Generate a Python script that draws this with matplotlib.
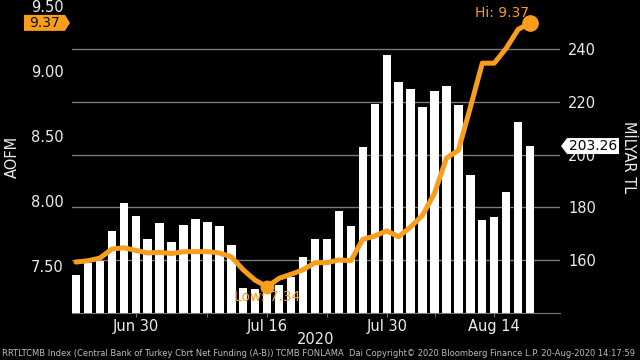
import numpy as np
import matplotlib
matplotlib.use("Agg")
import matplotlib.pyplot as plt
from matplotlib.patches import Polygon

# ---------------------------------------------------------------------------
# Data (business days, Turkish holidays skipped)
# ---------------------------------------------------------------------------
dates = [
    "Jun 23", "Jun 24", "Jun 25", "Jun 26", "Jun 29", "Jun 30",
    "Jul 1", "Jul 2", "Jul 3", "Jul 6", "Jul 7", "Jul 8", "Jul 9", "Jul 10",
    "Jul 13", "Jul 14", "Jul 16", "Jul 17", "Jul 20", "Jul 21", "Jul 22",
    "Jul 23", "Jul 24", "Jul 27", "Jul 28", "Jul 29", "Jul 30",
    "Aug 4", "Aug 5", "Aug 6", "Aug 7", "Aug 10", "Aug 11", "Aug 12",
    "Aug 13", "Aug 14", "Aug 17", "Aug 18", "Aug 19",
]

# net funding, billion TL (right axis, bars)
funding = [
    154.4, 158.8, 159.8, 171.1, 181.6, 176.9, 168.1, 174.0, 166.9, 173.2,
    175.5, 174.5, 172.9, 165.8, 149.4, 149.0, 148.5, 150.6, 153.8, 161.3,
    167.9, 168.2, 178.6, 172.8, 203.0, 219.1, 237.6, 227.5, 224.8, 218.2,
    224.3, 226.2, 218.9, 192.3, 175.3, 176.3, 186.0, 212.2, 203.26,
]

# average cost of funding, % (left axis, line)
aofm = [
    7.53, 7.54, 7.56, 7.63, 7.64, 7.62, 7.60, 7.605, 7.595, 7.61,
    7.61, 7.61, 7.60, 7.57, 7.47, 7.39, 7.34, 7.405, 7.436, 7.47,
    7.525, 7.525, 7.546, 7.54, 7.705, 7.73, 7.77, 7.725, 7.80, 7.89,
    8.06, 8.33, 8.39, 8.72, 9.06, 9.06, 9.175, 9.32, 9.37,
]

major_labels = ["Jun 30", "Jul 16", "Jul 30", "Aug 14"]
minor_labels = ["Jul 8", "Jul 23", "Aug 7"]
left_ticks = [7.50, 8.00, 8.50, 9.00, 9.50]
right_ticks = [160, 180, 200, 220, 240]

footer = ("RRTLTCMB Index (Central Bank of Turkey Cbrt Net Funding (A-B)) "
          "TCMB FONLAMA  Dai Copyright\u00a9 2020 Bloomberg Finance L.P. "
          "20-Aug-2020 14:17:59")

# ---------------------------------------------------------------------------
# Style
# ---------------------------------------------------------------------------
BG = "black"
ORANGE = "#f99d1c"
GRID = "#7a7a7a"
TXT = "#ececec"
FS = 10.5

W, H = 640, 360
fig = plt.figure(figsize=(W / 100, H / 100), dpi=100, facecolor=BG)
ax = fig.add_axes([72 / W, 47 / H, 488 / W, 313 / H])
ax.set_facecolor(BG)
ax2 = ax.twinx()   # line axis, drawn above the bars

x = np.arange(len(dates))

# bars on the right-hand axis
ax.bar(x, funding, width=0.7, color="white", zorder=2)
ax.set_ylim(140, 258.6)
ax.set_xlim(-0.33, 40.5)
ax.set_yticks(right_ticks)
ax.yaxis.tick_right()
ax.grid(axis="y", color=GRID, lw=1)
ax.set_axisbelow(True)
ax.tick_params(axis="y", length=0, pad=5.8, labelcolor=TXT, labelsize=FS)

ax.set_xticks([dates.index(d) for d in major_labels])
ax.set_xticklabels(major_labels)
ax.set_xticks([dates.index(d) for d in minor_labels], minor=True)
ax.tick_params(axis="x", which="both", length=3, color=GRID,
               labelcolor=TXT, labelsize=FS, pad=1)
for side in ("left", "right", "top"):
    ax.spines[side].set_visible(False)
ax.spines["bottom"].set_color(GRID)

# line on the left-hand axis
ax2.plot(x, aofm, color=ORANGE, lw=3.6, solid_joinstyle="round",
         solid_capstyle="round", zorder=3)
ax2.set_ylim(7.138, 9.546)
ax2.set_yticks(left_ticks)
ax2.set_yticklabels([f"{v:.2f}" for v in left_ticks])
ax2.yaxis.tick_left()
ax2.tick_params(axis="y", length=0, pad=5.8, labelcolor=TXT, labelsize=FS)
for s in ax2.spines.values():
    s.set_visible(False)

i_lo = int(np.argmin(aofm))
i_hi = int(np.argmax(aofm))
ax2.plot(x[i_lo], aofm[i_lo], "o", color=ORANGE, ms=9, zorder=4)
ax2.plot(x[i_hi], aofm[i_hi], "o", color=ORANGE, ms=11, zorder=4)
ax2.annotate(f"Low: {aofm[i_lo]:.2f}", (x[i_lo], aofm[i_lo]),
             xytext=(0, -10), textcoords="offset pixels",
             ha="center", va="center", color=ORANGE, fontsize=10)
ax2.annotate(f"Hi: {aofm[i_hi]:.2f}", (x[i_hi], aofm[i_hi]),
             xytext=(-1, 10), textcoords="offset pixels",
             ha="right", va="center", color=ORANGE, fontsize=10)

# axis titles and footer
fig.text(316 / W, 1 - 340 / H, "2020", ha="center", va="center",
         color=TXT, fontsize=FS)
fig.text(12 / W, 1 - 157 / H, "AOFM", rotation=90, ha="center",
         va="center", color=TXT, fontsize=FS)
fig.text(629 / W, 1 - 157 / H, "M\u0130LYAR TL", rotation=270, ha="center",
         va="center", color=TXT, fontsize=FS)
fig.text(2 / W, 1 - 354 / H, footer, ha="left", va="center",
         color="#bdbdbd", fontsize=6)


# ── last-value tags ─────────────────────────────────────────────────────────
def draw_tag(y_px, x0, x1, tip, text, face, color):
    """Box from x0..x1 (pixels) with a pointer at x=tip, centred on y_px."""
    h = 8
    if tip > x1:
        pts = [(x0, y_px - h), (x1, y_px - h), (tip, y_px),
               (x1, y_px + h), (x0, y_px + h)]
    else:
        pts = [(tip, y_px), (x0, y_px - h), (x1, y_px - h),
               (x1, y_px + h), (x0, y_px + h)]
    inv = fig.transFigure.inverted()
    fig.add_artist(Polygon(inv.transform(pts), closed=True, facecolor=face,
                           edgecolor="none", transform=fig.transFigure))
    cx, cy = inv.transform(((x0 + x1) / 2, y_px))
    fig.text(cx, cy, text, ha="center", va="center", color=color, fontsize=10)


y_left = ax2.transData.transform((0, aofm[-1]))[1]
draw_tag(y_left, 24, 65, 70, f"{aofm[-1]:.2f}", ORANGE, "#111111")
y_right = ax.transData.transform((0, funding[-1]))[1]
draw_tag(y_right, 567, 619, 561, f"{funding[-1]:.2f}", "white", "black")

fig.savefig("out.png", dpi=100, facecolor=BG)
